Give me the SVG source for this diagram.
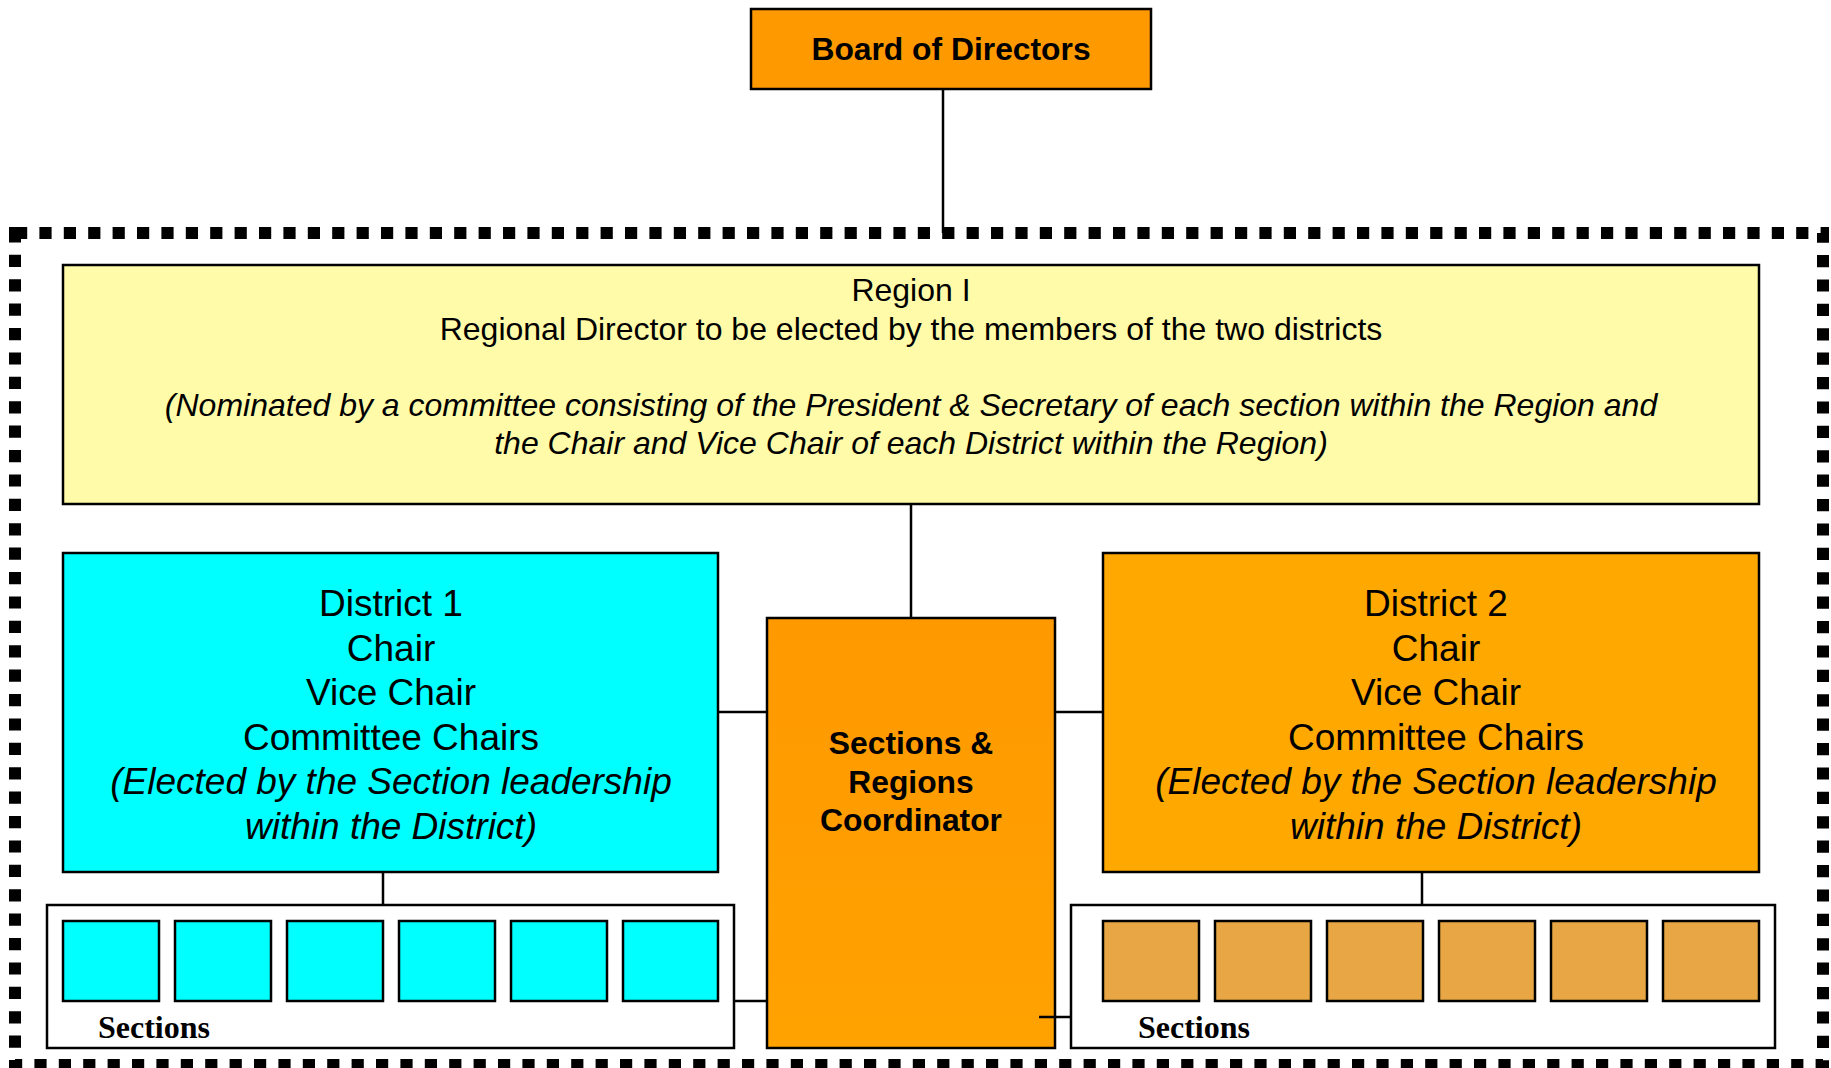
<svg xmlns="http://www.w3.org/2000/svg" width="1831" height="1068" viewBox="0 0 1831 1068">
<style>
.box{stroke:#000;stroke-width:2.5}
.ln{stroke:#000;stroke-width:2.5;fill:none}
.t{font-family:"Liberation Sans",Arial,sans-serif;fill:#000;text-anchor:middle}
.b{font-weight:bold}
.i{font-style:italic}
.s{font-family:"Liberation Serif","Times New Roman",serif;font-weight:bold;font-size:32px;fill:#000}
</style>
<defs>
<linearGradient id="coordGrad" x1="0" y1="0" x2="0" y2="1">
<stop offset="0" stop-color="#FF9900"/>
<stop offset="1" stop-color="#FFA200"/>
</linearGradient>
</defs>
<rect width="1831" height="1068" fill="#fff"/>
<g id="region-border">
<rect x="15" y="233" width="1808" height="832" fill="none" stroke="#000" stroke-width="12" stroke-dasharray="12.2 12.2"/>
</g>
<g id="board">
<rect class="box" x="751" y="9" width="400" height="80" fill="#FF9900"/>
<text class="t b" x="951" y="60" font-size="31.8">Board of Directors</text>
</g>
<g id="region">
<rect class="box" x="63" y="265" width="1696" height="239" fill="#FFFBA8"/>
<text class="t" x="911" y="301" font-size="32">Region I</text>
<text class="t" x="911" y="340" font-size="32">Regional Director to be elected by the members of the two districts</text>
<text class="t i" x="911" y="416" font-size="32">(Nominated by a committee consisting of the President &amp; Secretary of each section within the Region and</text>
<text class="t i" x="911" y="454" font-size="32">the Chair and Vice Chair of each District within the Region)</text>
</g>
<g id="district1">
<rect class="box" x="63" y="553" width="655" height="319" fill="#00FFFF"/>
<text class="t" x="391" y="616" font-size="37">District 1</text>
<text class="t" x="391" y="661" font-size="37">Chair</text>
<text class="t" x="391" y="705" font-size="37">Vice Chair</text>
<text class="t" x="391" y="750" font-size="37">Committee Chairs</text>
<text class="t i" x="391" y="794" font-size="37">(Elected by the Section leadership</text>
<text class="t i" x="391" y="839" font-size="37">within the District)</text>
</g>
<g id="district2">
<rect class="box" x="1103" y="553" width="656" height="319" fill="#FFA800"/>
<text class="t" x="1436" y="616" font-size="37">District 2</text>
<text class="t" x="1436" y="661" font-size="37">Chair</text>
<text class="t" x="1436" y="705" font-size="37">Vice Chair</text>
<text class="t" x="1436" y="750" font-size="37">Committee Chairs</text>
<text class="t i" x="1436" y="794" font-size="37">(Elected by the Section leadership</text>
<text class="t i" x="1436" y="839" font-size="37">within the District)</text>
</g>
<g id="coordinator">
<rect class="box" x="767" y="618" width="288" height="430" fill="url(#coordGrad)"/>
<text class="t b" x="911" y="754" font-size="31.8">Sections &amp;</text>
<text class="t b" x="911" y="793" font-size="31.8">Regions</text>
<text class="t b" x="911" y="831" font-size="31.8">Coordinator</text>
</g>
<g id="sections1">
<rect class="box" x="47" y="905" width="687" height="143" fill="#fff"/>
<g fill="#00FFFF" class="box">
<rect x="63" y="921" width="96" height="80"/>
<rect x="175" y="921" width="96" height="80"/>
<rect x="287" y="921" width="96" height="80"/>
<rect x="399" y="921" width="96" height="80"/>
<rect x="511" y="921" width="96" height="80"/>
<rect x="623" y="921" width="95" height="80"/>
</g>
<text class="s" x="98" y="1038">Sections</text>
</g>
<g id="sections2">
<rect class="box" x="1071" y="905" width="704" height="143" fill="#fff"/>
<g fill="#E8A645" class="box">
<rect x="1103" y="921" width="96" height="80"/>
<rect x="1215" y="921" width="96" height="80"/>
<rect x="1327" y="921" width="96" height="80"/>
<rect x="1439" y="921" width="96" height="80"/>
<rect x="1551" y="921" width="96" height="80"/>
<rect x="1663" y="921" width="96" height="80"/>
</g>
<text class="s" x="1138" y="1038">Sections</text>
</g>
<g id="connectors">
<line class="ln" x1="943" y1="89" x2="943" y2="233"/>
<line class="ln" x1="911" y1="504" x2="911" y2="618"/>
<line class="ln" x1="718" y1="712" x2="767" y2="712"/>
<line class="ln" x1="1055" y1="712" x2="1103" y2="712"/>
<line class="ln" x1="383" y1="872" x2="383" y2="905"/>
<line class="ln" x1="1422" y1="872" x2="1422" y2="905"/>
<line class="ln" x1="734" y1="1001" x2="767" y2="1001"/>
<line class="ln" x1="1039" y1="1017" x2="1071" y2="1017"/>
</g>
</svg>
